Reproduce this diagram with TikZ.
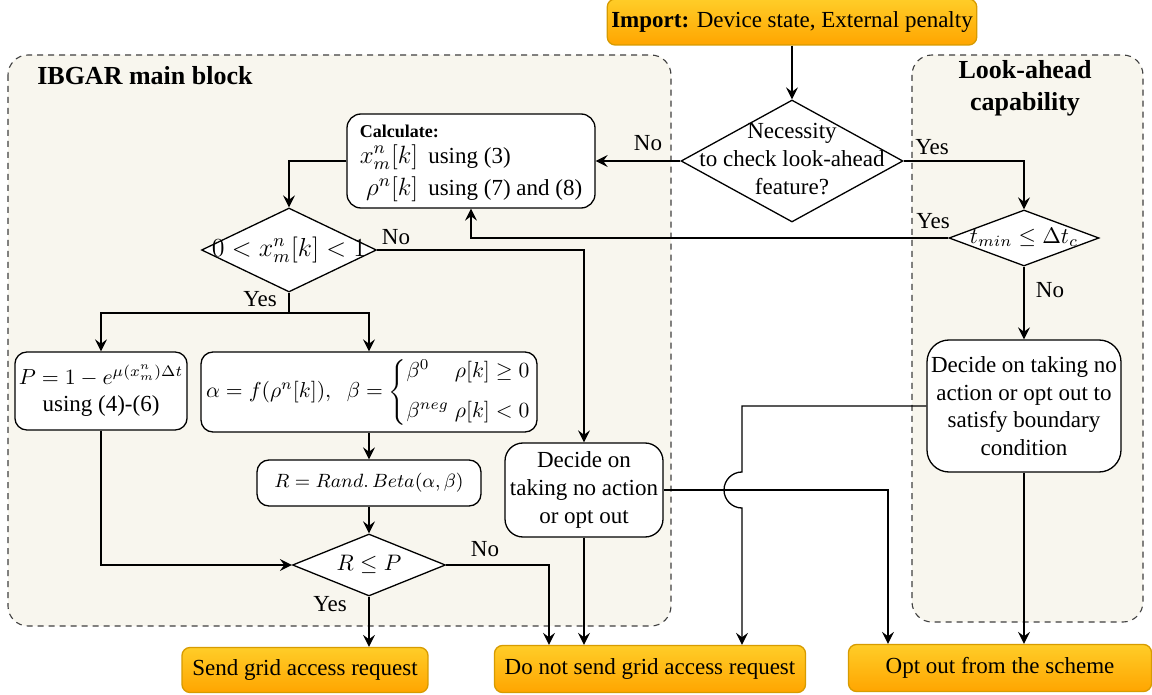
\RequirePackage{fix-cm}
\documentclass[tikz,border=0pt]{standalone}
\usepackage{amsmath}
\usepackage[no-math]{fontspec}
\setmainfont{Liberation Serif}
\usetikzlibrary{shapes.geometric,arrows.meta}
\definecolor{grpfill}{HTML}{F8F6EE}
\definecolor{orTop}{HTML}{FFCD28}
\definecolor{orBot}{HTML}{FFA500}
\definecolor{orLine}{HTML}{D79B00}
\definecolor{grpline}{HTML}{404040}
\newcommand\dtxt[1]{\makebox[0pt]{\smash{\raisebox{-0.25em}{\begin{tabular}{@{}c@{}}#1\end{tabular}}}}}
\newcommand\fsz[1]{\fontsize{#1}{1.2\dimexpr#1pt\relax}\selectfont}
\begin{document}
\begin{tikzpicture}[x=0.5pt,y=-0.5pt,
  font=\fontsize{11.5}{13.8}\selectfont,
  line width=0.65pt,
  arr/.style={-{Stealth[length=6pt,width=6pt,inset=2.2pt]}},
  group/.style={draw=grpline, dash pattern=on 3pt off 2.5pt, line width=0.55pt, fill=grpfill, rounded corners=10pt},
  proc/.style={draw, fill=white, rounded corners=6pt, align=center, inner sep=2pt},
  term/.style={draw=orLine, top color=orTop, bottom color=orBot, rounded corners=4pt, align=center, inner sep=2pt},
  decision/.style={draw, fill=white, diamond, inner sep=0pt},
  lbl/.style={inner sep=1pt},
  ttl/.style={font=\fontsize{13}{16}\selectfont\bfseries, align=center}
]
\useasboundingbox (0,0) rectangle (1152,695);
\fill[white] (0,0) rectangle (1152,695);
% groups
\draw[group] (8,55) rectangle (671,626);
\draw[group] (912,55) rectangle (1143,622);
\node[ttl, anchor=west] (t1) at (30,76) {IBGAR main block};
\node[ttl] (t2) at (1025,88) {Look-ahead\\capability};
% nodes
\node[term, minimum width=182pt, minimum height=23pt] (imp) at (792,22) {\textbf{Import:} Device state, External penalty};
\node[decision, minimum width=111pt, minimum height=61pt] (d1) at (792,161) {\dtxt{Necessity\\to check look-ahead\\feature?}};
\node[proc, minimum width=124pt, minimum height=47pt, rounded corners=7pt] (calc) at (471,161)
  {\begin{tabular}{@{}r@{\hspace{5pt}}l@{}}\multicolumn{2}{@{}l}{\fontsize{9}{10}\selectfont\bfseries Calculate:}\\[-1pt]
   {\fsz{12.5}$x_m^n[k]$} & using (3)\\[2.5pt] {\fsz{12.5}$\rho^n[k]$} & using (7) and (8)\end{tabular}};
\node[decision, minimum width=75pt, minimum height=28pt, font=\fsz{11.2}] (d2) at (1024,238) {\dtxt{$t_{min}\leq\Delta t_c$}};
\node[decision, minimum width=87.5pt, minimum height=42pt, font=\fsz{13}] (d3) at (289,250) {\dtxt{$0<x_m^n[k]<1$}};
\node[proc, minimum width=85pt, minimum height=39pt] (pbox) at (101,391) {{\fsz{10.9}$P=1-e^{\mu(x_m^n)\Delta t}$}\\using (4)-(6)};
\node[proc, font=\fsz{10.8}, minimum width=168pt, minimum height=40pt] (abox) at (369,392)
  {$\alpha=f(\rho^n[k]),\hspace{6pt} \beta=\left\{\begin{array}{@{}l@{\;}l@{}}\beta^0 & \rho[k]\geq 0\\[7pt]\beta^{neg} & \rho[k]<0\end{array}\right.$};
\node[proc, font=\fsz{9.6}, minimum width=112pt, minimum height=23pt] (rbox) at (369,483) {$R=Rand.\,Beta(\alpha,\beta)$};
\node[decision, minimum width=76.5pt, minimum height=31pt, font=\fsz{11.2}] (d4) at (369,565) {\dtxt{$R\leq P$}};
\node[proc, minimum width=79pt, minimum height=47pt, rounded corners=9pt] (dec) at (584,490) {Decide on\\taking no action\\or opt out};
\node[proc, minimum width=97pt, minimum height=66pt, rounded corners=11pt] (big) at (1024,406) {Decide on taking no\\action or opt out to\\satisfy boundary\\condition};
\node[term, minimum width=123pt, minimum height=22.5pt] (send) at (305,670) {Send grid access request};
\node[term, minimum width=155.5pt, minimum height=23.5pt] (dns) at (650,669) {Do not send grid access request};
\node[term, minimum width=151.5pt, minimum height=23.5pt] (opt) at (1000,668) {Opt out from the scheme};
% connectors
\draw[arr] (imp.south) -- (d1.north);
\draw[arr] (d1.west) -- (calc.east);
\draw[arr] (d1.east) -| (d2.north);
\draw[arr] (d2.west) -| (calc.south);
\draw[arr] (d2.south) -- (big.north);
\draw[arr] (calc.west) -| (d3.north);
\draw[arr] (d3.east) -| (dec.north);
\coordinate (yj) at (289,313);
\draw (d3.south) -- (yj);
\draw[arr] (yj) -| (pbox.north);
\draw[arr] (yj) -| (abox.north);
\draw[arr] (abox.south) -- (rbox.north);
\draw[arr] (rbox.south) -- (d4.north);
\draw[arr] (pbox.south) |- (d4.west);
\draw[arr] (d4.south) -- (d4.south |- send.north);
\coordinate (nx) at (549,600);
\draw[arr] (d4.east) -| (nx |- dns.north);
\draw[arr] (dec.south) -- (dec.south |- dns.north);
\coordinate (ox) at (888,600);
\draw[arr] (dec.east) -| (ox |- opt.north);
\coordinate (hopT) at (742,472);
\draw[arr] (big.west) -| (hopT) arc[start angle=90, end angle=270, radius=9pt] -- (hopT |- dns.north);
\draw[arr] (big.south) -- (big.south |- opt.north);
% labels
\node[lbl] (lno1) at (648,143) {No};
\node[lbl] (lyes1) at (932,147) {Yes};
\node[lbl] (lyes2) at (933,221) {Yes};
\node[lbl] (lno2) at (1050,290) {No};
\node[lbl] (lno3) at (396,237) {No};
\node[lbl] (lyes3) at (260,299) {Yes};
\node[lbl] (lno4) at (485,549) {No};
\node[lbl] (lyes4) at (330,604) {Yes};
\end{tikzpicture}
\end{document}
